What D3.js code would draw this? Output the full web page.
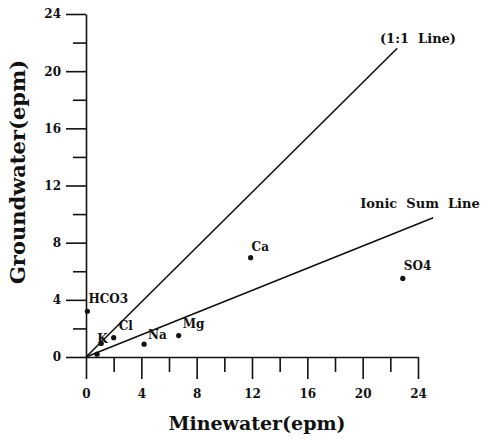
<!DOCTYPE html>
<html>
<head>
<meta charset="utf-8">
<script src="https://cdn.jsdelivr.net/npm/d3@7"></script>
<style>
	body { margin: 0; background: #fff; }
	svg { display: block; }
	text { font-family: "DejaVu Serif", serif; font-weight: bold; fill: #111; white-space: pre; }
</style>
</head>
<body>
<svg width="487" height="440"></svg>
<script>
// ions: minewater vs groundwater (epm)
const ions = ["HCO3", "Cl", "K", "", "Na", "Mg", "Ca", "SO4"];
const minewater = [0.1, 2.0, 1.1, 0.8, 4.2, 6.7, 11.9, 22.9];
const groundwater = [3.2, 1.35, 0.95, 0.2, 0.9, 1.5, 6.95, 5.5];
// label nudges (px) so text sits like the original
const labelDx = [1, 5, -4, 0, 4, 4, 1, 1];
const labelDy = [-8, -8, 0, 0, -5, -8, -7, -8];

const majorTicks = [0, 4, 8, 12, 16, 20, 24];
const minorTicks = [2, 6, 10, 14, 18, 22];

const oneToOne = [[0, 0], [22.5, 21.6]];
const ionicSum = [[0, 0], [25.1, 9.75]];

const svg = d3.select("svg");

const x = d3.scaleLinear().domain([0, 24]).range([86, 418]);
const y = d3.scaleLinear().domain([0, 24]).range([357, 14]);

// y axis
svg.append("g")
	.attr("transform", `translate(${x(0)},0)`)
	.call(d3.axisLeft(y).tickValues(minorTicks).tickSize(13).tickSizeOuter(0).tickFormat(""))
	.call(g => g.select(".domain").remove());
svg.append("g")
	.attr("transform", `translate(${x(0)},0)`)
	.call(d3.axisLeft(y).tickValues(majorTicks).tickSize(20).tickSizeOuter(0).tickPadding(5))
	.call(g => g.selectAll("text").style("font-size", "12px"));

// x axis
svg.append("g")
	.attr("transform", `translate(0,${y(0)})`)
	.call(d3.axisBottom(x).tickValues(minorTicks).tickSize(15).tickSizeOuter(0).tickFormat(""))
	.call(g => g.select(".domain").remove());
svg.append("g")
	.attr("transform", `translate(0,${y(0)})`)
	.call(d3.axisBottom(x).tickValues(majorTicks).tickSize(22).tickSizeOuter(0).tickPadding(10))
	.call(g => g.selectAll("text").style("font-size", "12px"));

svg.selectAll(".domain, .tick line").attr("stroke", "#111").attr("stroke-width", 1.6);

// lines
const line = d3.line().x(d => x(d[0])).y(d => y(d[1]));
svg.append("path").attr("d", line(oneToOne))
	.attr("fill", "none").attr("stroke", "#111").attr("stroke-width", 1.6);
svg.append("path").attr("d", line(ionicSum))
	.attr("fill", "none").attr("stroke", "#111").attr("stroke-width", 1.6);

svg.append("text").attr("x", 418).attr("y", 43)
	.attr("text-anchor", "middle").style("font-size", "13px")
	.text("(1:1  Line)");
svg.append("text").attr("x", 420).attr("y", 208)
	.attr("text-anchor", "middle").style("font-size", "13px")
	.text("Ionic  Sum  Line");

// points
svg.append("g").selectAll("circle")
	.data(ions)
	.join("circle")
	.attr("cx", (d, i) => x(minewater[i]))
	.attr("cy", (d, i) => y(groundwater[i]))
	.attr("r", 2.6)
	.attr("fill", "#111");

svg.append("g").selectAll("text")
	.data(ions)
	.join("text")
	.attr("x", (d, i) => x(minewater[i]) + labelDx[i])
	.attr("y", (d, i) => y(groundwater[i]) + labelDy[i])
	.style("font-size", "12px")
	.text(d => d);

// axis titles
svg.append("text").attr("x", 257).attr("y", 430)
	.attr("text-anchor", "middle").style("font-size", "19px")
	.text("Minewater(epm)");
svg.append("text")
	.attr("transform", "translate(25,172) rotate(-90)")
	.attr("text-anchor", "middle").style("font-size", "21px")
	.text("Groundwater(epm)");
</script>
</body>
</html>
